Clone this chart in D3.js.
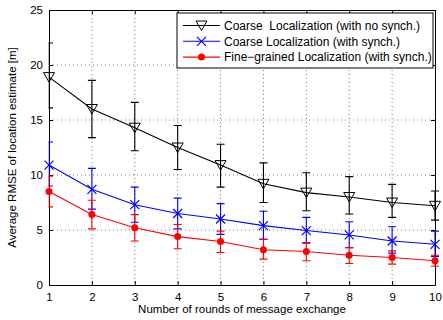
<!DOCTYPE html>
<html>
<head>
<meta charset="utf-8">
<script src="https://cdn.jsdelivr.net/npm/d3@7"></script>
<style>
  body { margin: 0; background: #fff; }
  svg { font-family: "Liberation Sans", Arial, sans-serif; }
</style>
</head>
<body>
<div id="chart"></div>
<script>
const rounds = [1, 2, 3, 4, 5, 6, 7, 8, 9, 10];

// coarse localization, no synch
const noSyncMean = [18.9, 16.0, 14.3, 12.5, 10.9, 9.2, 8.4, 8.0, 7.5, 7.2];
const noSyncLow  = [16.1, 13.4, 12.2, 10.5, 8.9, 7.5, 6.75, 6.45, 6.15, 5.9];
const noSyncHigh = [22.0, 18.6, 16.6, 14.5, 12.8, 11.1, 10.2, 9.85, 9.15, 8.55];

// coarse localization, with synch
const syncMean = [10.9, 8.7, 7.3, 6.5, 6.0, 5.4, 4.95, 4.55, 4.0, 3.7];
const syncLow  = [9.0, 6.9, 5.7, 5.1, 4.6, 4.15, 3.8, 3.4, 2.9, 2.6];
const syncHigh = [13.0, 10.6, 8.9, 7.9, 7.4, 6.7, 6.15, 5.75, 5.3, 4.9];

// fine-grained localization, with synch
const fineMean = [8.5, 6.4, 5.2, 4.4, 3.95, 3.2, 3.05, 2.7, 2.5, 2.2];
const fineLow  = [7.1, 5.1, 4.0, 3.3, 2.95, 2.35, 2.2, 1.95, 1.9, 1.7];
const fineHigh = [9.9, 7.7, 6.4, 5.5, 4.9, 4.15, 3.85, 3.4, 3.1, 2.7];

const yTicks = [0, 5, 10, 15, 20, 25];

const seriesNames = [
  "Coarse\u00a0 Localization (with no synch.)",
  "Coarse Localization (with synch.)",
  "Fine\u2212grained Localization (with synch.)"
];

const series = [
  { name: seriesNames[0], color: "#000000", marker: "tri", mean: noSyncMean, low: noSyncLow, high: noSyncHigh },
  { name: seriesNames[1], color: "#0000ff", marker: "x", mean: syncMean, low: syncLow, high: syncHigh },
  { name: seriesNames[2], color: "#ff0000", marker: "dot", mean: fineMean, low: fineLow, high: fineHigh }
];

const W = 443, H = 320;
const margin = { top: 10, right: 8, bottom: 35, left: 49 };
const width = W - margin.left - margin.right;
const height = H - margin.top - margin.bottom;

const svg = d3.select("#chart").append("svg")
    .attr("width", W)
    .attr("height", H);

// error bar caps are cut at the left axis (not at the right one)
svg.append("defs").append("clipPath").attr("id", "ebclip")
    .append("rect")
    .attr("x", -0.5).attr("y", -10)
    .attr("width", width + 10).attr("height", height + 20);

const g = svg.append("g")
    .attr("transform", "translate(" + margin.left + "," + margin.top + ")");

const x = d3.scaleLinear().domain([1, 10]).range([0, width]);
const y = d3.scaleLinear().domain([0, 25]).range([height, 0]);

// grid
g.append("g").selectAll("line")
    .data(rounds.slice(1, -1))
    .enter().append("line")
    .attr("x1", d => x(d)).attr("x2", d => x(d))
    .attr("y1", 0).attr("y2", height)
    .attr("stroke", "#555").attr("stroke-width", 0.8)
    .attr("stroke-dasharray", "1,3");

g.append("g").selectAll("line")
    .data(yTicks.slice(1, -1))
    .enter().append("line")
    .attr("x1", 0).attr("x2", width)
    .attr("y1", d => y(d)).attr("y2", d => y(d))
    .attr("stroke", "#555").attr("stroke-width", 0.8)
    .attr("stroke-dasharray", "1,3");

// axes
const xAxis = g.append("g")
    .attr("transform", "translate(0," + height + ")")
    .call(d3.axisBottom(x).tickValues(rounds).tickSizeInner(-4).tickSizeOuter(0).tickPadding(8));
const xAxisTop = g.append("g")
    .call(d3.axisTop(x).tickValues(rounds).tickSizeInner(-4).tickSizeOuter(0).tickFormat(""));
const yAxis = g.append("g")
    .call(d3.axisLeft(y).tickValues(yTicks).tickSizeInner(-4).tickSizeOuter(0).tickPadding(6));
const yAxisRight = g.append("g")
    .attr("transform", "translate(" + width + ",0)")
    .call(d3.axisRight(y).tickValues(yTicks).tickSizeInner(-4).tickSizeOuter(0).tickFormat(""));

[xAxis, xAxisTop, yAxis, yAxisRight].forEach(a => {
  a.select(".domain").attr("stroke", "#000").attr("stroke-width", 1);
  a.selectAll(".tick line").attr("stroke", "#000");
  a.selectAll(".tick text").attr("font-size", "11.5px").attr("fill", "#000")
      .attr("font-family", "Liberation Sans, Arial, sans-serif");
});

function drawMarker(sel, type, color) {
  if (type === "tri") {
    sel.append("path")
        .attr("d", "M-5.5,-4.5 L5.5,-4.5 L0,5 Z")
        .attr("fill", "none").attr("stroke", color).attr("stroke-width", 1);
  } else if (type === "x") {
    sel.append("path")
        .attr("d", "M-4.5,-4.5 L4.5,4.5 M-4.5,4.5 L4.5,-4.5")
        .attr("stroke", color).attr("stroke-width", 1.2);
  } else {
    sel.append("circle").attr("r", 3.5).attr("fill", color);
  }
}

const line = d3.line().x(d => x(d[0])).y(d => y(d[1]));

series.forEach(s => {
  const pts = rounds.map((r, i) => ({ r: r, m: s.mean[i], lo: s.low[i], hi: s.high[i] }));
  const sg = g.append("g");

  // error bars
  const eb = sg.append("g").attr("clip-path", "url(#ebclip)")
      .selectAll(".eb").data(pts).enter().append("g")
      .attr("stroke", s.color).attr("stroke-width", 1.1);
  eb.append("line")
      .attr("x1", d => x(d.r)).attr("x2", d => x(d.r))
      .attr("y1", d => y(d.lo)).attr("y2", d => y(d.hi));
  eb.append("line")
      .attr("x1", d => x(d.r) - 4).attr("x2", d => x(d.r) + 4)
      .attr("y1", d => y(d.lo)).attr("y2", d => y(d.lo));
  eb.append("line")
      .attr("x1", d => x(d.r) - 4).attr("x2", d => x(d.r) + 4)
      .attr("y1", d => y(d.hi)).attr("y2", d => y(d.hi));

  sg.append("path")
      .datum(pts.map(d => [d.r, d.m]))
      .attr("d", line)
      .attr("fill", "none").attr("stroke", s.color).attr("stroke-width", 1.1);

  sg.selectAll(".mk").data(pts).enter().append("g")
      .attr("transform", d => "translate(" + x(d.r) + "," + y(d.m) + ")")
      .each(function() { drawMarker(d3.select(this), s.marker, s.color); });
});

// legend
const lg = svg.append("g").attr("transform", "translate(177,13)");
lg.append("rect")
    .attr("width", 256).attr("height", 55)
    .attr("fill", "#fff").attr("stroke", "#000").attr("stroke-width", 1);
series.forEach((s, i) => {
  const ly = 12.5 + i * 15.8;
  lg.append("line")
      .attr("x1", 6).attr("x2", 43).attr("y1", ly).attr("y2", ly)
      .attr("stroke", s.color).attr("stroke-width", 1.1);
  const m = lg.append("g").attr("transform", "translate(24.5," + ly + ")");
  drawMarker(m, s.marker, s.color);
  lg.append("text")
      .attr("x", 47).attr("y", ly + 4.2)
      .attr("font-size", "12px")
      .text(s.name);
});

// axis titles
svg.append("text")
    .attr("x", margin.left + width / 2).attr("y", 313)
    .attr("text-anchor", "middle").attr("font-size", "11.5px")
    .text("Number of rounds of message exchange");

svg.append("text")
    .attr("transform", "translate(16," + (margin.top + height / 2) + ") rotate(-90)")
    .attr("text-anchor", "middle").attr("font-size", "11.5px")
    .text("Average RMSE of location estimate [m]");
</script>
</body>
</html>
